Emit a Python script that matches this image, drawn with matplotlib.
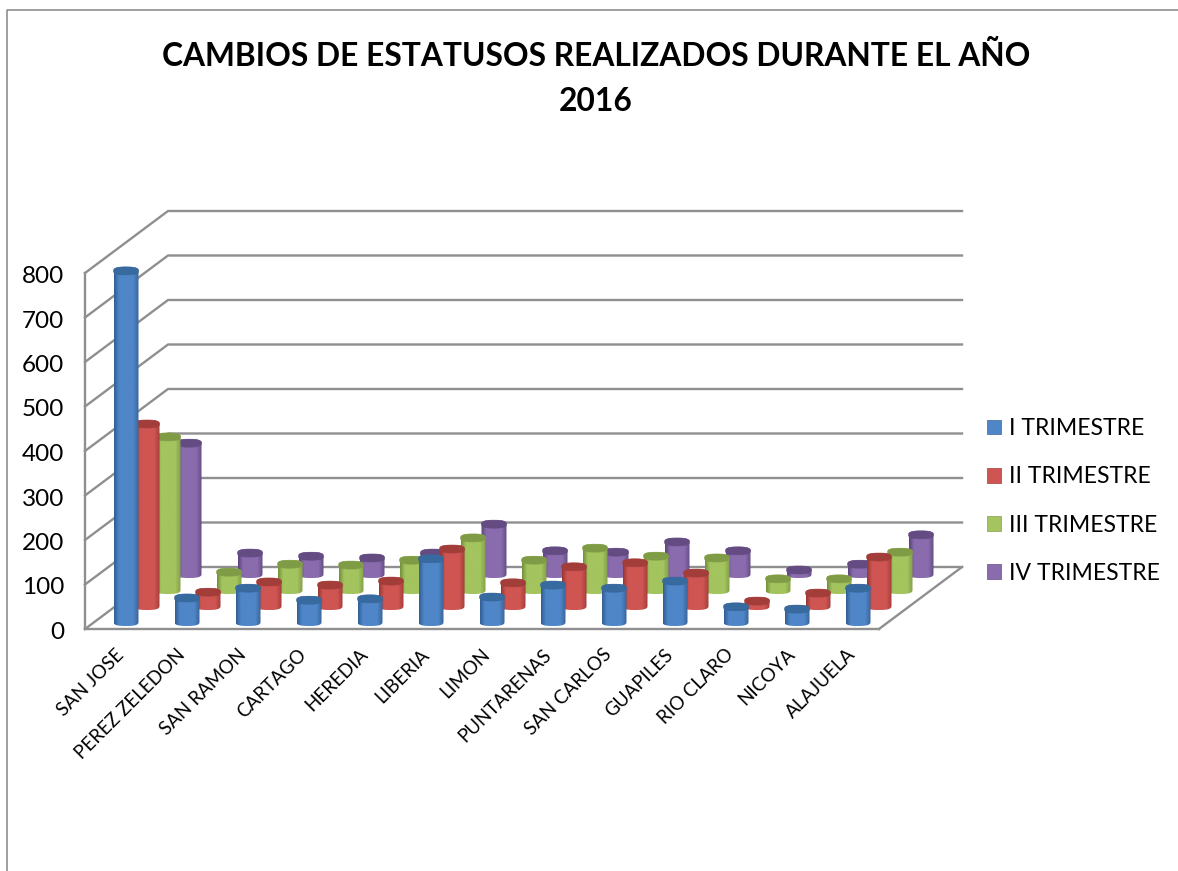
import matplotlib
matplotlib.use('Agg')
import matplotlib.pyplot as plt
from matplotlib.colors import LinearSegmentedColormap
from matplotlib.lines import Line2D
from matplotlib.patches import Patch, Polygon
from matplotlib.transforms import ScaledTranslation
import numpy as np

plt.rcParams['font.family'] = ['Lato', 'DejaVu Sans']

categories = ["SAN JOSE", "PEREZ ZELEDON", "SAN RAMON", "CARTAGO", "HEREDIA", "LIBERIA", "LIMON",
              "PUNTARENAS", "SAN CARLOS", "GUAPILES", "RIO CLARO", "NICOYA", "ALAJUELA"]
series_names = ["I TRIMESTRE", "II TRIMESTRE", "III TRIMESTRE", "IV TRIMESTRE"]
trim1 = [789, 54, 76, 49, 52, 142, 56, 83, 76, 92, 34, 29, 76]
trim2 = [409, 31, 54, 47, 56, 128, 52, 88, 97, 74, 11, 29, 110]
trim3 = [344, 40, 58, 56, 67, 117, 67, 94, 76, 72, 25, 25, 85]
trim4 = [294, 47, 40, 36, 47, 112, 52, 49, 72, 52, 9, 22, 88]
values = [trim1, trim2, trim3, trim4]

# dark edge, light middle, dark edge + color of the top
shades = [("#325f94", "#4f86c8", "#3a6599", "#376a9e"),
          ("#963836", "#cf5552", "#a33e3c", "#a33d3a"),
          ("#758f3e", "#a3c45e", "#83a048", "#7f9b45"),
          ("#5a4478", "#8a6cae", "#654d86", "#644c82")]

W, H = 1178, 871
PX_X = 61.0      # pixels for one category
PX_Y = 0.445     # pixels for one unit
DEPTH_X = 83 / PX_X
DEPTH_Y = 62 / PX_Y
STEP_X = 21 / PX_X
STEP_Y = 16 / PX_Y
START_Y = 7 / PX_Y
RX = 12.5 / PX_X
RY = 4.0 / PX_Y
GREY = "#8f8f8f"

fig = plt.figure(figsize=(W / 100, H / 100), dpi=100)
ax = fig.add_axes([85 / W, 1 - 629 / H, (879 - 85) / W, (629 - 273) / H])
xmin, xmax = (85 - 126) / PX_X, (879 - 126) / PX_X
ax.set_xlim(xmin, xmax)
ax.set_ylim(0, 800)
ax.set_autoscale_on(False)

# walls and floor
for v in range(0, 900, 100):
    ax.plot([xmin, xmin + DEPTH_X, xmax + DEPTH_X], [v, v + DEPTH_Y, v + DEPTH_Y],
            color=GREY, lw=1.7, clip_on=False, zorder=1)
ax.plot([xmax, xmax + DEPTH_X], [0, DEPTH_Y], color=GREY, lw=1.7, clip_on=False, zorder=1)


def rounded(t):
    # a bit squarer than an ellipse, like the excel bevel
    return np.sign(np.cos(t)) * np.abs(np.cos(t)) ** 0.75, np.sign(np.sin(t)) * np.abs(np.sin(t)) ** 0.75


def cylinder(x, base, val, s, zo):
    dark, light, dark2, top = shades[s]
    cx, cy = rounded(np.linspace(0, np.pi, 40))
    ex = x + RX * cx
    ey = RY * cy
    # body: top arc is covered by the lid, bottom arc closes the shape
    pts = np.vstack([np.column_stack([ex, base + val + ey]),
                     np.column_stack([ex[::-1], base - ey[::-1]])])
    body = Polygon(pts, closed=True, facecolor="none", edgecolor="none", transform=ax.transData)
    ax.add_patch(body)
    cmap = LinearSegmentedColormap.from_list("c", [dark, light, light, dark2], N=64)
    grad = cmap(np.interp(np.linspace(0, 1, 64), [0, 0.2, 0.78, 1], [0, 0.34, 0.67, 1]))[None, :, :]
    im = ax.imshow(grad, extent=[x - RX, x + RX, base - RY, base + val + RY], aspect="auto",
                   interpolation="bilinear", zorder=zo)
    im.set_clip_box(fig.bbox)
    im.set_clip_path(body)
    cx, cy = rounded(np.linspace(0, 2 * np.pi, 80))
    lid = Polygon(np.column_stack([x + RX * cx, base + val + RY * cy]), closed=True,
                  facecolor=top, edgecolor=dark2, lw=0.4, clip_on=False, zorder=zo + 0.5)
    ax.add_patch(lid)


# back series first, left to right
zo = 2
for s in range(3, -1, -1):
    for c in range(len(categories)):
        cylinder(c + s * STEP_X, START_Y + s * STEP_Y, values[s][c], s, zo)
        zo += 1

ax.set_xlim(xmin, xmax)
ax.set_ylim(0, 800)

for side in ["top", "right"]:
    ax.spines[side].set_visible(False)
for side in ["left", "bottom"]:
    ax.spines[side].set_color(GREY)
    ax.spines[side].set_linewidth(1.7)
    ax.spines[side].set_zorder(1)
ax.patch.set_alpha(0)

ax.set_yticks(range(0, 900, 100))
ax.tick_params(axis="y", length=0, pad=15, labelsize=17.5, labelcolor="black")
for label in ax.get_yticklabels():
    label.set_transform(label.get_transform() + ScaledTranslation(0, -0.015, fig.dpi_scale_trans))
ax.set_xticks(range(len(categories)))
ax.set_xticklabels(categories, rotation=45, ha="right", rotation_mode="anchor", fontsize=13.5)
ax.tick_params(axis="x", length=0, pad=12)
for label in ax.get_xticklabels():
    label.set_transform(label.get_transform() + ScaledTranslation(-0.11, 0, fig.dpi_scale_trans))

fig.suptitle("CAMBIOS DE ESTATUSOS REALIZADOS DURANTE EL AÑO\n2016", x=596 / W, y=1 - 41 / H,
             fontsize=22.9, fontweight="bold", va="top", linespacing=1.65)

handles = [Patch(facecolor=shades[i][1], edgecolor=shades[i][2], lw=0.5) for i in range(4)]
fig.legend(handles, series_names, loc="center left", bbox_to_anchor=(987 / W, 1 - 501 / H), frameon=False,
           fontsize=16.6, handlelength=0.61, handleheight=0.61, handletextpad=0.35, labelspacing=1.18,
           borderpad=0, borderaxespad=0)

# chart border, only the top and left are inside the picture
fig.add_artist(Line2D([1, 7 / W, 7 / W], [1 - 10 / H, 1 - 10 / H, 0], color=GREY, lw=1.2))

fig.savefig("out.png", dpi=100)
plt.close(fig)
